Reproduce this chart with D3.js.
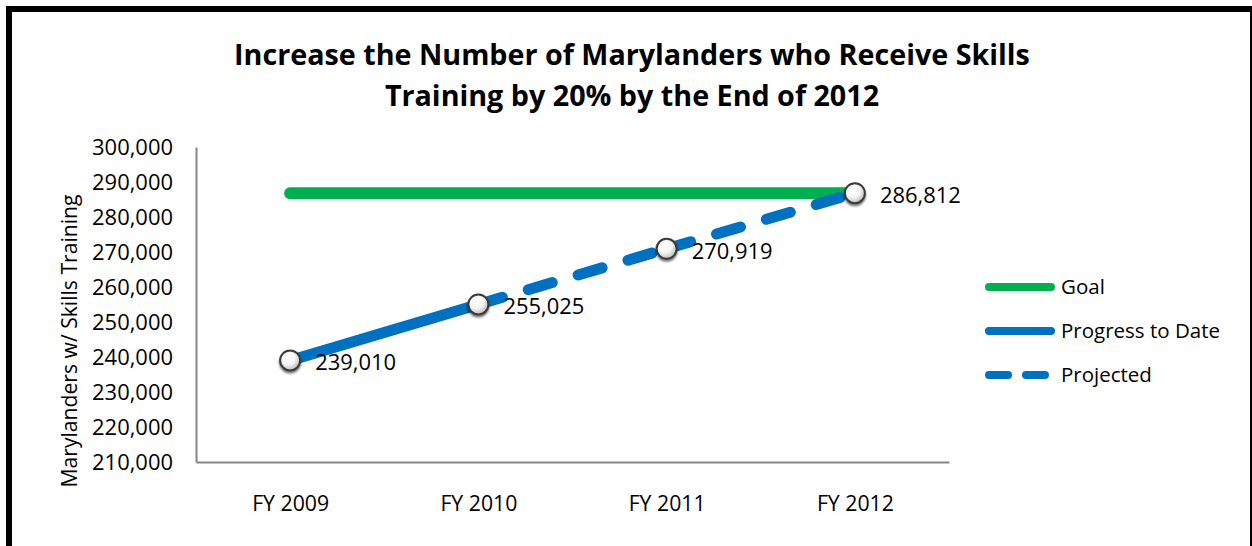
<!DOCTYPE html>
<html>
<head>
<meta charset="utf-8">
<script src="https://cdn.jsdelivr.net/npm/d3@7"></script>
<style>
  html, body { margin: 0; padding: 0; background: #fff; }
  svg { display: block; }
  text { font-family: "Open Sans", "DejaVu Sans", sans-serif; fill: #000; }
</style>
</head>
<body>
<svg id="chart" width="1252" height="546"></svg>
<script>
// ---- data ----
const categories = ["FY 2009", "FY 2010", "FY 2011", "FY 2012"];
const goalValues = [286812, 286812, 286812, 286812];
const progressValues = [239010, 255025, null, null];
const projectedValues = [null, 255025, 270919, 286812];
const labelValues = [239010, 255025, 270919, 286812];
const yTickValues = [210000, 220000, 230000, 240000, 250000, 260000, 270000, 280000, 290000, 300000];
const titleLines = ["Increase the Number of Marylanders who Receive Skills", "Training by 20% by the End of 2012"];
const yAxisTitle = "Marylanders w/ Skills Training";
const legendNames = ["Goal", "Progress to Date", "Projected"];

// ---- layout ----
const svg = d3.select("#chart");
const W = 1252, H = 546;
const plot = { left: 196, right: 949, top: 147, bottom: 462 };
const GREEN = "#00B050", BLUE = "#0070C0", AXIS = "#868686";

svg.append("rect").attr("width", W).attr("height", H).attr("fill", "#fff");

// frame
svg.append("rect").attr("x", 6).attr("y", 6).attr("width", W - 6).attr("height", 6).attr("fill", "#000");
svg.append("rect").attr("x", 6).attr("y", 6).attr("width", 6).attr("height", H - 6).attr("fill", "#000");
svg.append("rect").attr("x", W - 2).attr("y", 6).attr("width", 2).attr("height", H - 6).attr("fill", "#000");

// fit helper: scale font-size so that a text reaches a target width
function fitSize(str, weight, target, base) {
  const t = svg.append("text").attr("font-size", base).attr("font-weight", weight).text(str);
  const w = t.node().getComputedTextLength();
  t.remove();
  return base * target / w;
}

const titleSize = fitSize(titleLines[0], "bold", 796, 28);
const numSize = fitSize("300,000", "normal", 81, 22);
const catSize = fitSize("FY 2012", "normal", 77, 21);
const legSize = fitSize("Progress to Date", "normal", 159, 20);
const ytSize = fitSize(yAxisTitle, "normal", 293, 20);

// title
const title = svg.append("text").attr("text-anchor", "middle").attr("font-weight", "bold").attr("font-size", titleSize);
title.selectAll("tspan").data(titleLines).join("tspan")
  .attr("x", 632).attr("y", (d, i) => 65 + i * 41).text(d => d);

// scales
const x = d3.scalePoint().domain(categories).range([plot.left, plot.right]).padding(0.5);
const y = d3.scaleLinear().domain([210000, 300000]).range([plot.bottom, plot.top]);

// axes
const yAxis = svg.append("g").attr("transform", `translate(${plot.left},0)`)
  .call(d3.axisLeft(y).tickValues(yTickValues).tickSize(0).tickSizeOuter(0).tickPadding(23).tickFormat(d3.format(",")));
const xAxis = svg.append("g").attr("transform", `translate(0,${plot.bottom})`)
  .call(d3.axisBottom(x).tickSize(0).tickSizeOuter(0).tickPadding(34));
[yAxis, xAxis].forEach(g => {
  g.select(".domain").attr("stroke", AXIS).attr("stroke-width", 2);
  g.selectAll("text").attr("font-family", null).attr("fill", "#000");
});
yAxis.attr("font-size", null).selectAll("text").attr("font-size", numSize).attr("dy", "0.36em");
xAxis.attr("font-size", null).selectAll("text").attr("font-size", catSize);

// y axis title
svg.append("text").attr("transform", "translate(77,341) rotate(-90)")
  .attr("text-anchor", "middle").attr("font-size", ytSize).text(yAxisTitle);

// defs: marker gradient + shadow
const defs = svg.append("defs");
const grad = defs.append("radialGradient").attr("id", "mk").attr("cx", "40%").attr("cy", "35%").attr("r", "65%");
grad.append("stop").attr("offset", "0%").attr("stop-color", "#ffffff");
grad.append("stop").attr("offset", "55%").attr("stop-color", "#f4f4f4");
grad.append("stop").attr("offset", "100%").attr("stop-color", "#bdbdbd");
const sh = defs.append("filter").attr("id", "sh").attr("x", "-50%").attr("y", "-50%").attr("width", "200%").attr("height", "200%");
sh.append("feDropShadow").attr("dx", 0).attr("dy", 2).attr("stdDeviation", 1.2).attr("flood-color", "#000").attr("flood-opacity", 0.55);

// lines
const line = d3.line().defined(d => d.v != null).x(d => x(d.c)).y(d => y(d.v));
const mk = vals => categories.map((c, i) => ({ c, v: vals[i] }));

svg.append("path").datum(mk(goalValues)).attr("d", line)
  .attr("fill", "none").attr("stroke", GREEN).attr("stroke-width", 12).attr("stroke-linecap", "round");

svg.append("path").datum(mk(progressValues)).attr("d", line)
  .attr("fill", "none").attr("stroke", BLUE).attr("stroke-width", 11).attr("stroke-linecap", "round");

const projPts = mk(projectedValues).filter(d => d.v != null);
svg.append("g").selectAll("path").data(d3.pairs(projPts)).join("path")
  .attr("d", d => line(d))
  .attr("fill", "none").attr("stroke", BLUE).attr("stroke-width", 11)
  .attr("stroke-linecap", "round").attr("stroke-dasharray", "25,27");

// markers
const markerPts = mk(labelValues);
svg.append("g").selectAll("circle").data(markerPts).join("circle")
  .attr("cx", d => x(d.c)).attr("cy", d => y(d.v)).attr("r", 10)
  .attr("fill", "url(#mk)").attr("stroke", "#3a3a3a").attr("stroke-width", 2)
  .attr("filter", "url(#sh)");

// data labels
svg.append("g").selectAll("text").data(markerPts).join("text")
  .attr("x", d => x(d.c) + 25).attr("y", d => y(d.v) + 2).attr("dy", "0.36em")
  .attr("font-size", numSize).text(d => d3.format(",")(d.v));

// legend
const legendY = [287, 331, 375];
const leg = svg.append("g").selectAll("g").data(legendNames).join("g")
  .attr("transform", (d, i) => `translate(0,${legendY[i]})`);
leg.append("line").attr("x1", 989).attr("x2", 1051).attr("y1", 0).attr("y2", 0)
  .attr("stroke", (d, i) => i === 0 ? GREEN : BLUE).attr("stroke-width", 8)
  .attr("stroke-linecap", "round")
  .attr("stroke-dasharray", (d, i) => i === 2 ? "19,18" : null);
leg.append("text").attr("x", 1061).attr("y", 0).attr("dy", "0.36em")
  .attr("font-size", legSize).text(d => d);
</script>
</body>
</html>
